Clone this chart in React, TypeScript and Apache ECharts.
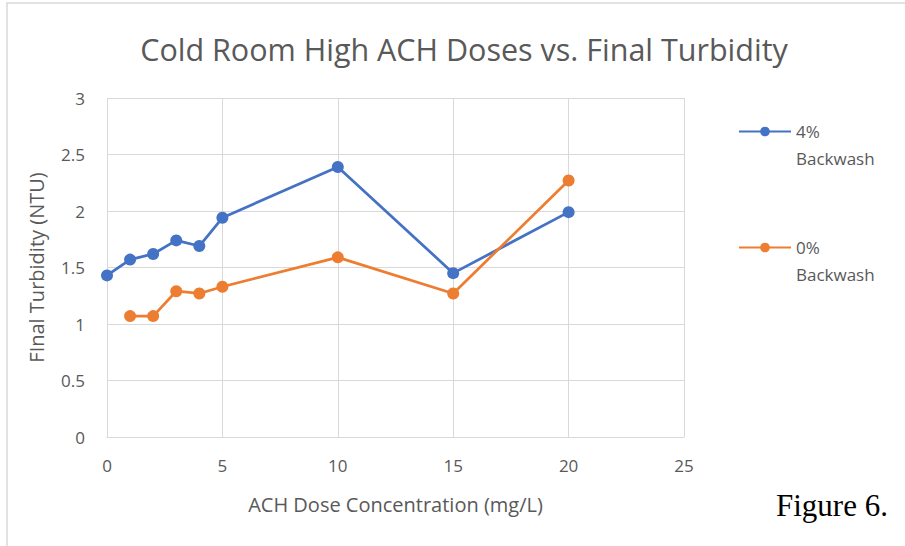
import React, { useEffect, useRef } from "react";
import * as echarts from "echarts";

const doses4 = [0, 1, 2, 3, 4, 5, 10, 15, 20];
const turbidity4 = [1.43, 1.57, 1.62, 1.74, 1.69, 1.94, 2.39, 1.45, 1.99];
const doses0 = [1, 2, 3, 4, 5, 10, 15, 20];
const turbidity0 = [1.07, 1.07, 1.29, 1.27, 1.33, 1.59, 1.27, 2.27];
const seriesNames = ["4%\nBackwash", "0%\nBackwash"];
const seriesColors = ["#4472C4", "#ED7D31"];

const FONT = "'Open Sans', 'Noto Sans', sans-serif";

export default function App() {
  const ref = useRef<HTMLDivElement>(null);
  useEffect(() => {
    if (!ref.current) return;
    const chart = echarts.init(ref.current, null, { renderer: "svg" });
    const mk = (xs: number[], ys: number[]) => xs.map((x, i) => [x, ys[i]]);
    chart.setOption({
      animation: false,
      backgroundColor: "#ffffff",
      title: {
        text: "Cold Room High ACH Doses vs. Final Turbidity",
        left: 459,
        top: 28,
        textAlign: "center",
        textStyle: { fontFamily: FONT, fontSize: 30.5, fontWeight: "normal", color: "#595959" },
      },
      grid: { left: 107, right: 221, top: 98, bottom: 109 },
      legend: {
        orient: "vertical",
        left: 738,
        top: 91,
        padding: 0,
        itemWidth: 52,
        itemHeight: 12,
        itemGap: 35,
        formatter: (name: string) => " \n" + name,
        textStyle: {
          fontFamily: FONT,
          fontSize: 17,
          color: "#595959",
          lineHeight: 27,
        },
        data: seriesNames,
      },
      xAxis: {
        type: "value",
        min: 0,
        max: 25,
        interval: 5,
        name: "ACH Dose Concentration (mg/L)",
        nameLocation: "middle",
        nameGap: 57,
        nameTextStyle: { fontFamily: FONT, fontSize: 20, color: "#595959" },
        axisLine: { show: true, lineStyle: { color: "#d9d9d9", width: 1 } },
        axisTick: { show: false },
        axisLabel: { margin: 20, fontFamily: FONT, fontSize: 17, color: "#595959" },
        splitLine: { show: true, lineStyle: { color: "#d9d9d9", width: 1 } },
      },
      yAxis: {
        type: "value",
        min: 0,
        max: 3,
        interval: 0.5,
        name: "FInal Turbidity (NTU)",
        nameLocation: "middle",
        nameGap: 61,
        nameRotate: 90,
        nameTextStyle: { fontFamily: FONT, fontSize: 20, color: "#595959" },
        axisLine: { show: false },
        axisTick: { show: false },
        axisLabel: { margin: 22, fontFamily: FONT, fontSize: 17, color: "#595959" },
        splitLine: { show: true, lineStyle: { color: "#d9d9d9", width: 1 } },
      },
      series: [
        {
          name: seriesNames[0],
          type: "line",
          data: mk(doses4, turbidity4),
          color: seriesColors[0],
          symbol: "circle",
          symbolSize: 12,
          lineStyle: { width: 2.75, color: seriesColors[0] },
          itemStyle: { color: seriesColors[0] },
        },
        {
          name: seriesNames[1],
          type: "line",
          data: mk(doses0, turbidity0),
          color: seriesColors[1],
          symbol: "circle",
          symbolSize: 12,
          lineStyle: { width: 2.75, color: seriesColors[1] },
          itemStyle: { color: seriesColors[1] },
        },
      ],
      graphic: [
        {
          type: "rect",
          shape: { x: 7, y: 3, width: 1200, height: 1200 },
          style: { fill: "none", stroke: "#d9d9d9", lineWidth: 1.5 },
          silent: true,
        },
        {
          type: "text",
          left: 776,
          top: 490,
          style: { text: "Figure 6.", font: "31px 'Liberation Serif', 'Times New Roman', serif", fill: "#000000" },
        },
      ],
    });
    return () => chart.dispose();
  }, []);
  return (
    <div
      ref={ref}
      style={{ position: "fixed", left: 0, top: 0, width: 905, height: 546 }}
    />
  );
}
